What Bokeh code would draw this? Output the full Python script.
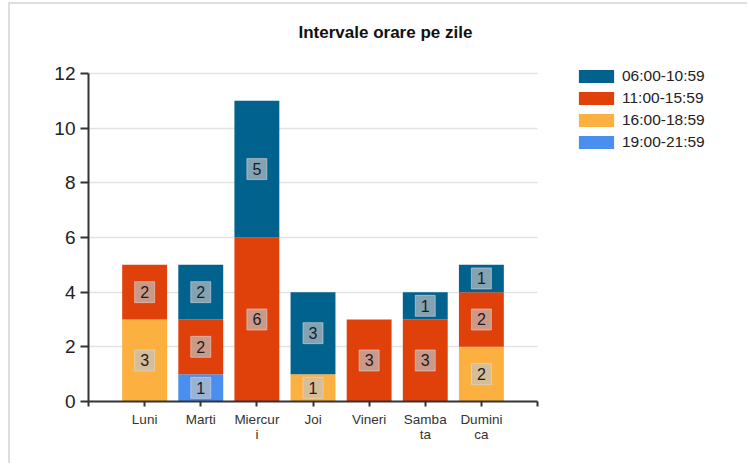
from bokeh.plotting import figure
from bokeh.models import (ColumnDataSource, FixedTicker, Legend, LegendItem, Range1d, Label)
from bokeh.core.properties import value
from bokeh.embed import file_html
from bokeh.resources import INLINE

days = ["Luni", "Marti", "Miercuri", "Joi", "Vineri", "Sambata", "Duminica"]
day_labels = ["Luni", "Marti", "Miercur\ni", "Joi", "Vineri", "Samba\nta", "Dumini\nca"]
series_names = ["06:00-10:59", "11:00-15:59", "16:00-18:59", "19:00-21:59"]
s_0600 = [0, 2, 5, 3, 0, 1, 1]
s_1100 = [2, 2, 6, 0, 3, 3, 2]
s_1600 = [3, 0, 0, 1, 0, 0, 2]
s_1900 = [0, 1, 0, 0, 0, 0, 0]
colors = {"06:00-10:59": "#02628e", "11:00-15:59": "#e0410b", "16:00-18:59": "#fbb040", "19:00-21:59": "#4a8ff0"}
y_ticks = [0, 2, 4, 6, 8, 10, 12]
title_text = "Intervale orare pe zile"

FONT = "Liberation Sans"
xpos = list(range(1, len(days) + 1))
n_slots = len(days) + 1          # axis spans 0..8
y_max = 12

data = {"x": xpos, "19:00-21:59": s_1900, "16:00-18:59": s_1600,
        "11:00-15:59": s_1100, "06:00-10:59": s_0600}
src = ColumnDataSource(data)

# frame covers nearly the whole canvas; axes are bounded to the chart area
p = figure(width=739, height=461, output_backend="svg", toolbar_location=None,
           x_range=Range1d(0, 11.777), y_range=Range1d(0, 14.3),
           min_border_left=78, min_border_right=0, min_border_top=6, min_border_bottom=64)
p.styles = {"margin-top": "2px", "margin-left": "8px",
            "border-left": "2px solid #dedede", "border-top": "2px solid #dedede"}
p.outline_line_color = None
p.background_fill_color = "white"
p.border_fill_color = "white"

stack_order = ["19:00-21:59", "16:00-18:59", "11:00-15:59", "06:00-10:59"]
rends = p.vbar_stack(stack_order, x="x", width=0.8, source=src,
                     color=[colors[k] for k in stack_order], line_color=None)

# segment value labels
lx, ly, lt = [], [], []
for i, xv in enumerate(xpos):
    base = 0
    for k in stack_order:
        v = data[k][i]
        if v > 0:
            lx.append(xv)
            ly.append(base + v / 2)
            lt.append(str(v))
        base += v
lsrc = ColumnDataSource(dict(x=lx, y=ly, t=lt))
p.rect(x="x", y="y", width=20, height=21, width_units="screen", height_units="screen",
       source=lsrc, fill_color="#c2c2c2", fill_alpha=0.68,
       line_color="#e6e6e6", line_alpha=0.5, line_width=1)
p.text(x="x", y="y", text="t", source=lsrc, text_align="center", text_baseline="middle",
       text_font=value(FONT), text_font_size="16px", text_color="#1a1a2a")

# axes
p.xgrid.visible = False
p.ygrid.grid_line_color = "#e2e2e2"
p.ygrid.grid_line_width = 1.5
p.ygrid.cross_bounds = (0, n_slots)
p.yaxis.bounds = (0, y_max)
p.yaxis.ticker = FixedTicker(ticks=y_ticks)
p.yaxis.axis_line_color = "#333333"
p.yaxis.axis_line_width = 2
p.yaxis.major_tick_line_color = "#333333"
p.yaxis.major_tick_line_width = 2
p.yaxis.major_tick_out = 8
p.yaxis.major_tick_in = 0
p.yaxis.minor_tick_line_color = None
p.yaxis.major_label_text_font = FONT
p.yaxis.major_label_text_font_size = "19px"
p.yaxis.major_label_text_color = "#222222"
p.yaxis.major_label_standoff = 5

p.xaxis.bounds = (0, n_slots)
p.xaxis.ticker = FixedTicker(ticks=list(range(0, n_slots + 1)))
overrides = {0: "", n_slots: ""}
for xv, lab in zip(xpos, day_labels):
    overrides[xv] = lab
p.xaxis.major_label_overrides = overrides
p.xaxis.axis_line_color = "#333333"
p.xaxis.axis_line_width = 2
p.xaxis.major_tick_line_color = "#333333"
p.xaxis.major_tick_line_width = 2
p.xaxis.major_tick_out = 5
p.xaxis.major_tick_in = 0
p.xaxis.minor_tick_line_color = None
p.xaxis.major_label_text_font = FONT
p.xaxis.major_label_text_font_size = "13.5px"
p.xaxis.major_label_text_color = "#333333"
p.xaxis.major_label_text_line_height = 1.0
p.xaxis.major_label_standoff = 5

# title
p.add_layout(Label(x=5.29, y=13.5, text=title_text, text_align="center", text_baseline="middle",
                   text_font=FONT, text_font_size="17px", text_font_style="bold", text_color="#111111"))

# legend
rmap = dict(zip(stack_order, rends))
items = [LegendItem(label=n, renderers=[rmap[n]]) for n in series_names]
legend = Legend(items=items, location=(486, 250), padding=0, margin=0, spacing=4,
                glyph_width=44, glyph_height=16, label_standoff=4, label_height=13,
                label_text_font=FONT, label_text_font_size="15.5px", label_text_color="#222222",
                border_line_color=None, background_fill_alpha=0)
p.add_layout(legend, "center")

open("out.html", "w").write(file_html(p, INLINE))
